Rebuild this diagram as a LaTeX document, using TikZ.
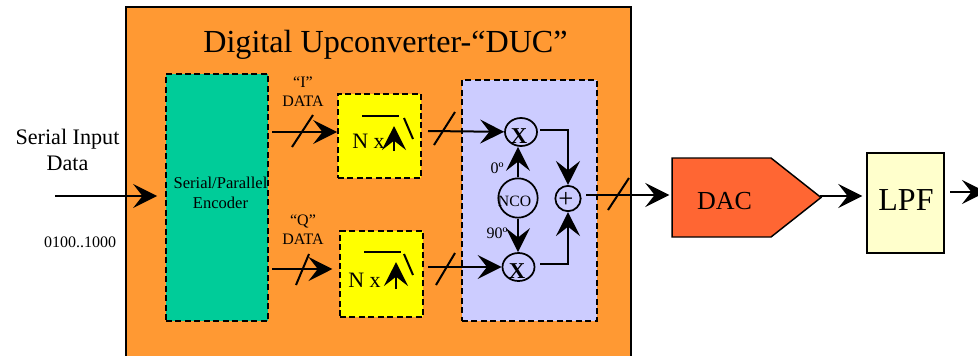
\documentclass[tikz,border=0pt]{standalone}
\usepackage{fontspec}
\setmainfont{Liberation Serif}
\usetikzlibrary{arrows.meta,shapes.geometric,shapes.symbols}
\definecolor{duc}{HTML}{FF9933}
\definecolor{enc}{HTML}{00CC99}
\definecolor{nx}{HTML}{FFFF00}
\definecolor{lav}{HTML}{CCCCFF}
\definecolor{dacc}{HTML}{FF6633}
\definecolor{lpfc}{HTML}{FFFFCC}
\tikzset{
  x=0.75pt,y=-0.75pt,
  box/.style={draw=black,line width=1.1pt,inner sep=0pt,anchor=center},
  dashbox/.style={box,line width=1.3pt,dash pattern=on 4.5pt off 2.6pt},
  ring/.style={ellipse,draw=black,line width=1.3pt,inner sep=0pt},
  arr/.style={line width=1.5pt,-{Stealth[length=18pt,width=18pt,inset=7pt]}},
  wire/.style={line width=1.5pt},
  lbl/.style={inner sep=0pt,align=center,text=black},
  t16/.style={lbl,font=\fontsize{12}{14}\selectfont},
  t20/.style={lbl,font=\fontsize{16.6}{20}\selectfont},
  t22/.style={lbl,font=\fontsize{16.5}{20}\selectfont},
  mixx/.style={lbl,font=\fontsize{17}{18}\selectfont\bfseries},
}
\begin{document}
\begin{tikzpicture}
\useasboundingbox (0,0) rectangle (978,355);
\clip (0,0) rectangle (978,355);
% main blocks
\node[box,fill=duc,minimum width=378.75pt,minimum height=270pt] (duc) at (378.5,187) {};
\node[dashbox,fill=enc,minimum width=76.5pt,minimum height=185.25pt] (encoder) at (217,197.5) {};
\node[dashbox,fill=nx,minimum width=62.25pt,minimum height=63pt] (nxi) at (379.5,136) {};
\node[dashbox,fill=nx,minimum width=62.25pt,minimum height=64.5pt] (nxq) at (381.5,274) {};
\node[dashbox,fill=lav,minimum width=101.25pt,minimum height=180.75pt] (ncobox) at (529.5,200.5) {};
\node[ring,minimum width=24pt,minimum height=21pt] (mixi) at (521,132) {};
\node[ring,minimum width=24pt,minimum height=21pt] (mixq) at (518.5,267) {};
\node[ring,minimum width=29.5pt,minimum height=29.5pt] (nco) at (518,198) {};
\node[ring,minimum width=19pt,minimum height=19pt] (sum) at (568,198.5) {};
\node[draw=black,line width=1.1pt,fill=dacc,signal,signal to=east,signal from=nowhere,signal pointer angle=76.6,minimum width=111.75pt,minimum height=59.25pt,inner sep=0pt] (dac) at (721.5,197.5) {};
\node[box,fill=lpfc,minimum width=57.75pt,minimum height=75pt] (lpf) at (905.5,203) {};
% texts
\node[lbl,font=\fontsize{24.1}{30}\selectfont] (title) at (385.5,45) {Digital Upconverter-“DUC”};
\node[t20] (serialtxt) at (67.5,150) {Serial Input\\Data};
\node[t16] (bits) at (80,242) {0100..1000};
\node[lbl,font=\fontsize{12.4}{15}\selectfont] (enctxt) at (220.5,193) {Serial/Parallel\\Encoder};
\node[t16] (itxt) at (303,92) {“I”\\DATA};
\node[t16] (qtxt) at (303,230) {“Q”\\DATA};
\node[t22] (nxit) at (368.5,141) {N x};
\node[t22] (nxqt) at (364.5,280) {N x};
\node[lbl,font=\fontsize{11.8}{14}\selectfont] (ncotxt) at (514.5,201) {NCO};
\node[t16] (deg0) at (497,168) {0º};
\node[t16] (deg90) at (497,233) {90º};
\node[mixx] (xi) at (519,136) {X};
\node[mixx] (xq) at (517,271) {X};
\node[lbl,font=\fontsize{20}{20}\selectfont] (plus) at (566,200) {+};
\node[lbl,font=\fontsize{19.5}{24}\selectfont] (dactxt) at (724.5,201) {DAC};
\node[lbl,font=\fontsize{24}{28}\selectfont] (lpftxt) at (906,200) {LPF};
% free ends
\coordinate (serialin) at (55,196);
\coordinate (iin) at (272,132);
\coordinate (qin) at (272,269);
\coordinate (iout) at (428,131);
\coordinate (qout) at (428,267);
\coordinate (sumout) at (586,195);
\coordinate (dacout) at (820,196);
\coordinate (lpfout) at (950,192);
\coordinate (rfout) at (986,192);
\coordinate (nxiup) at (394,151);
\coordinate (nxiuptip) at (394,126);
\coordinate (nxqup) at (396,289);
\coordinate (nxquptip) at (396,262);
\coordinate (mixiout) at (540,130);
\coordinate (mixqout) at (540,264);
% connectors
\draw[arr,shorten >=6pt] (serialin) -- (serialin -| encoder.west);
\draw[arr] (iin) -- (iin -| nxi.west);
\draw[arr,shorten >=5pt] (qin) -- (qin -| nxq.west);
\draw[arr] (iout) -- (mixi);
\draw[arr] (qout) -- (mixq);
\draw[arr] (nco.north) -- (mixi.south -| nco.north);
\draw[arr] (nco.south) -- (mixq.north -| nco.south);
\draw[arr] (mixiout) -| (sum.north);
\draw[arr] (mixqout) -| (sum.south);
\draw[arr,shorten >=1.5pt] (sumout) -- (sumout -| dac.west);
\draw[arr,shorten >=3pt] (dacout) -- (dacout -| lpf.west);
\draw[arr] (lpfout) -- (rfout);
\draw[arr] (nxiup) -- (nxiuptip);
\draw[arr] (nxqup) -- (nxquptip);
% bus slashes
\draw[wire] (292,147) -- (313,115);
\draw[wire] (296,285) -- (309,254);
\draw[wire] (434,145) -- (455,112);
\draw[wire] (436,285) -- (455,253);
\draw[wire] (608,210) -- (629,178);
% N x symbols
\draw[wire] (362,116) -- (399,116);
\draw[wire] (404,118) -- (413,139);
\draw[wire] (364,252) -- (401,252);
\draw[wire] (404,254) -- (413,275);
\end{tikzpicture}
\end{document}
